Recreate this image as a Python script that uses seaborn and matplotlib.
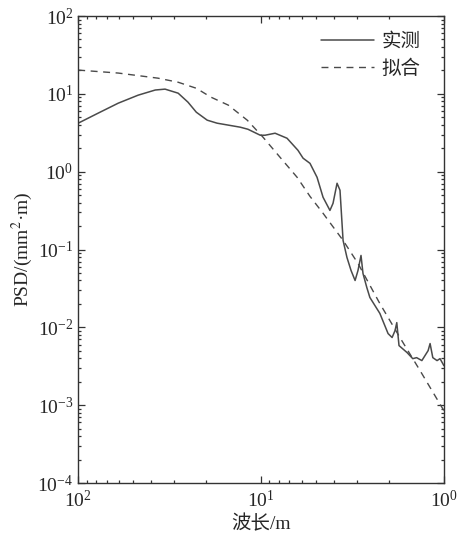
import numpy as np
import pandas as pd
import matplotlib
matplotlib.use("Agg")
import matplotlib.pyplot as plt
import seaborn as sns
from matplotlib.ticker import LogLocator, NullFormatter

# measured PSD (wavelength in m, PSD in mm^2*m)
meas_wavelength = [100, 77.8, 60.4, 47.0, 37.9, 33.5, 28.4, 25.1, 22.6, 19.7, 17.4, 13.0,
                   11.8, 10.1, 9.51, 8.38, 7.21, 6.28, 5.89, 5.40, 4.94, 4.58, 4.20, 4.04,
                   3.84, 3.70, 3.56, 3.39, 3.22, 3.06, 2.95, 2.84, 2.77, 2.64, 2.54, 2.24,
                   2.02, 1.92, 1.85, 1.81, 1.76, 1.59, 1.48, 1.41, 1.32, 1.22, 1.19, 1.15,
                   1.09, 1.05, 1.0]
meas_psd = [4.20, 5.65, 7.59, 9.62, 11.2, 11.5, 10.2, 7.82, 5.81, 4.59, 4.20, 3.73,
            3.51, 2.94, 2.94, 3.12, 2.69, 1.88, 1.49, 1.28, 0.847, 0.469, 0.318, 0.392,
            0.710, 0.577, 0.131, 0.0791, 0.0538, 0.0400, 0.0538, 0.0839, 0.0492, 0.0325, 0.0242, 0.0151,
            0.00832, 0.00740, 0.00910, 0.0115, 0.00583, 0.00474, 0.00396, 0.00408, 0.00374, 0.00502, 0.00619, 0.00408,
            0.00374, 0.00396, 0.00322]

# fitted PSD
fit_wavelength = [100, 60.4, 36.6, 28.4, 22.6, 18.8, 15.1, 11.9, 9.75, 7.87, 6.35, 5.40,
                  4.58, 3.56, 2.95, 2.24, 1.74, 1.35, 1.0]
fit_psd = [20.2, 18.5, 15.9, 14.1, 11.8, 9.07, 7.16, 4.59, 2.77, 1.53, 0.847, 0.482,
           0.292, 0.131, 0.0662, 0.0202, 0.00740, 0.00278, 0.00085]

df_meas = pd.DataFrame({"wavelength": meas_wavelength, "psd": meas_psd})
df_fit = pd.DataFrame({"wavelength": fit_wavelength, "psd": fit_psd})

sns.set_style("ticks")
plt.rcParams["font.family"] = ["Liberation Serif", "Noto Sans CJK SC"]
plt.rcParams["mathtext.fontset"] = "stix"

fig = plt.figure(figsize=(4.6, 5.34), dpi=100)
ax = fig.add_axes([0.170, 0.0955, 0.795, 0.8745])

line_color = "#4a4a4a"
sns.lineplot(data=df_meas, x="wavelength", y="psd", ax=ax, sort=False,
             color=line_color, linewidth=1.1, label="实测")
sns.lineplot(data=df_fit, x="wavelength", y="psd", ax=ax, sort=False,
             color=line_color, linewidth=1.0, linestyle=(0, (5, 4)), label="拟合")

ax.set_xscale("log")
ax.set_yscale("log")
ax.set_xlim(100, 1)
ax.set_ylim(1e-4, 1e2)
ax.xaxis.set_major_locator(LogLocator(base=10, numticks=10))
ax.yaxis.set_major_locator(LogLocator(base=10, numticks=10))
ax.xaxis.set_minor_locator(LogLocator(base=10, subs=np.arange(2, 10), numticks=20))
ax.yaxis.set_minor_locator(LogLocator(base=10, subs=np.arange(2, 10), numticks=20))
ax.xaxis.set_minor_formatter(NullFormatter())
ax.yaxis.set_minor_formatter(NullFormatter())

ax.tick_params(which="both", direction="in", top=True, right=True, labelsize=14,
               width=0.9, color="#333333")
ax.tick_params(which="major", length=5)
ax.tick_params(which="minor", length=2.5)
ax.tick_params(axis="x", which="major", pad=5)
for s in ax.spines.values():
    s.set_linewidth(1.0)
    s.set_color("#333333")

ax.set_xlabel("波长/m", fontsize=14, labelpad=3)
ax.set_ylabel("PSD/(mm$^2$·m)", fontsize=14, labelpad=2)

leg = ax.legend(loc="upper right", bbox_to_anchor=(0.958, 0.981), frameon=False,
                fontsize=14, handlelength=2.7, handletextpad=0.4,
                labelspacing=0.45, borderaxespad=0)

plt.savefig("out.png", dpi=100)
